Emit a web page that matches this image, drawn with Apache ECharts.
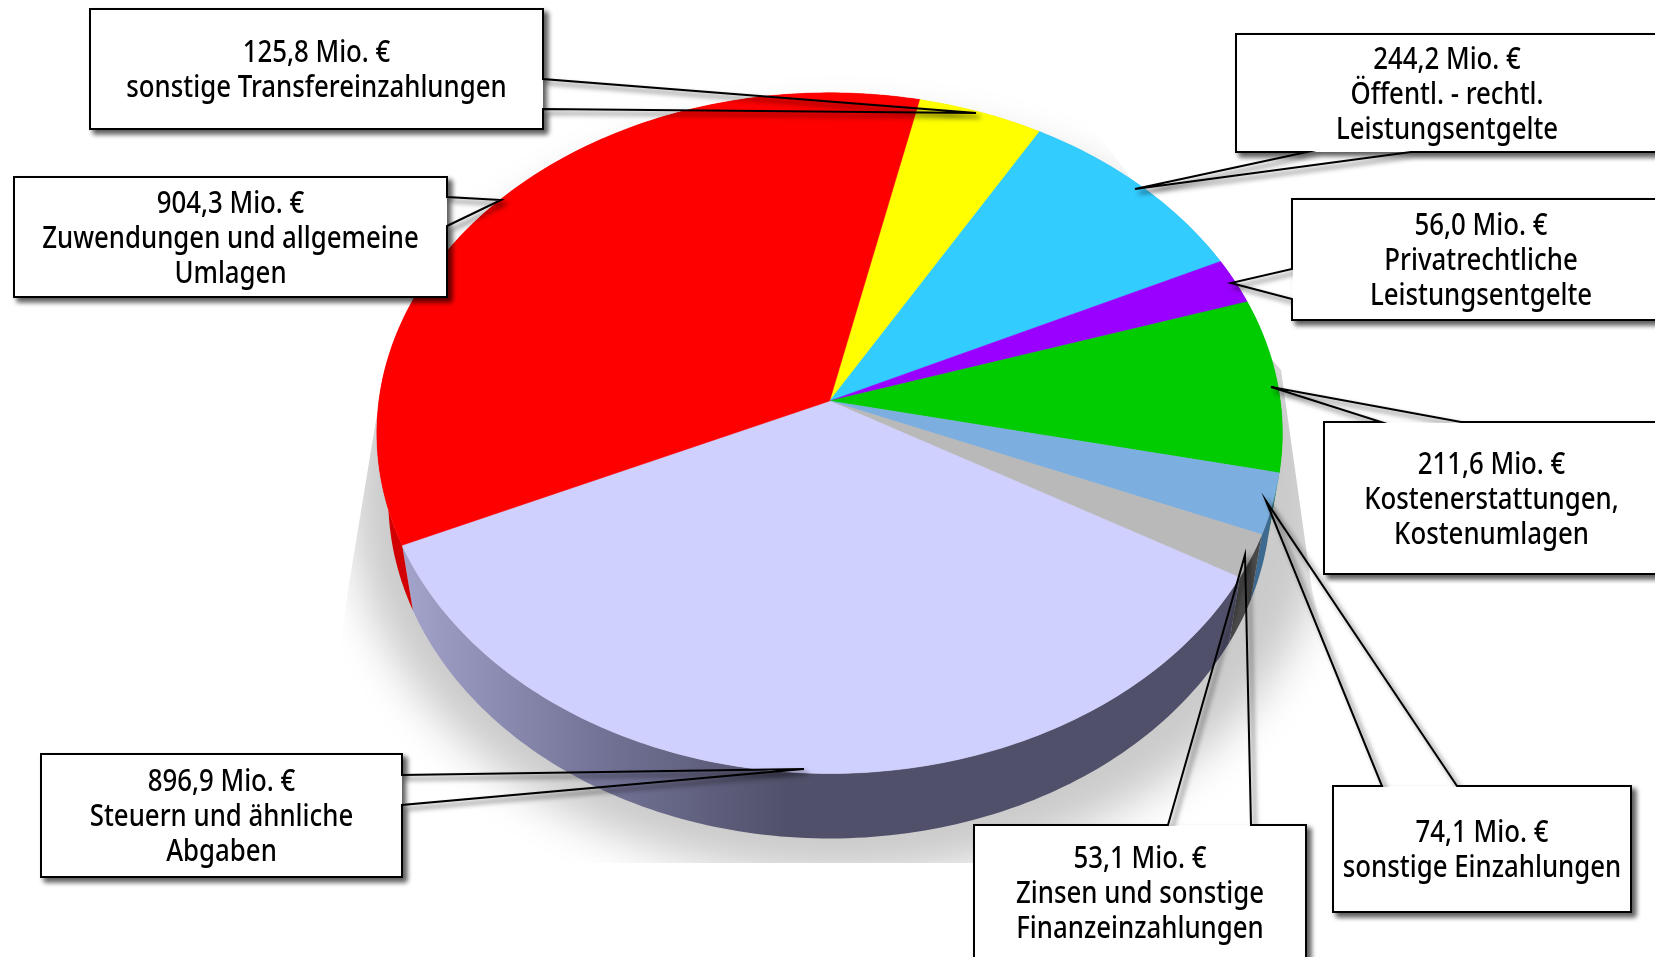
<!DOCTYPE html>
<html>
<head>
<meta charset="utf-8">
<title>Einzahlungen</title>
<style>
html, body { margin: 0; padding: 0; background: #fff; }
#main { width: 1655px; height: 957px; }
</style>
<script src="https://cdn.jsdelivr.net/npm/echarts@6/dist/echarts.min.js"></script>
</head>
<body>
<div id="main"></div>
<script>
// Mio. Euro, clockwise from the yellow slice
var values = [125.8, 244.2, 56.0, 211.6, 74.1, 53.1, 896.9, 904.3];
var names = [
    'sonstige Transfereinzahlungen',
    'Öffentl. - rechtl.\nLeistungsentgelte',
    'Privatrechtliche\nLeistungsentgelte',
    'Kostenerstattungen,\nKostenumlagen',
    'sonstige Einzahlungen',
    'Zinsen und sonstige\nFinanzeinzahlungen',
    'Steuern und ähnliche\nAbgaben',
    'Zuwendungen und allgemeine\nUmlagen'
];
var topColors = ['#ffff00', '#33ccff', '#9900ff', '#00cc00', '#7cafe0', '#b9b9b9', '#d0d0ff', '#ff0000'];
var wallColors = ['#cccc00', '#29a3cc', '#7a00cc', '#00a300', '#3f6a90', '#4a4a4a', null, '#d20000'];

// callout geometry: box [left, top, right, bottom], wedge [base point, tip, base point]
var boxes = [
    [90, 9, 543, 129],
    [1236, 34, 1658, 152],
    [1292, 199, 1670, 320],
    [1324, 422, 1659, 574],
    [1333, 786, 1631, 912],
    [974, 825, 1306, 960],
    [41, 754, 402, 877],
    [14, 177, 447, 297]
];
var wedges = [
    [[543, 79], [976, 113], [543, 109]],
    [[1411, 152], [1135, 189], [1307, 152]],
    [[1292, 299], [1231, 283], [1292, 269]],
    [[1461, 422], [1271, 387], [1381, 422]],
    [[1457, 786], [1266, 501], [1382, 786]],
    [[1251, 825], [1245, 555], [1168, 825]],
    [[402, 805], [804, 769], [402, 775]],
    [[447, 226], [501, 200], [447, 197]]
];

// perspective view of the disc
var CX = 829.6, CY = 401, RX = 450.7, RY = 337.3, PERSP = 0.0945;
var DEPTH = 65, BOTTOM_SCALE = 0.975;
var START_DEG = 12.6;

function project(deg) {
    var a = deg * Math.PI / 180;
    var u = Math.sin(a), v = -Math.cos(a);
    var w = 1 - PERSP * v;
    return [CX + RX * u / w, CY + RY * v / w];
}
function lower(p) {
    return [CX + (p[0] - CX) * BOTTOM_SCALE, p[1] + DEPTH];
}

var total = values.reduce(function (a, b) { return a + b; }, 0);
var startAngles = [];
values.reduce(function (acc, v, i) {
    startAngles[i] = acc;
    return acc + v / total * 360;
}, START_DEG);

function rimPoints(i) {
    var from = startAngles[i];
    var span = values[i] / total * 360;
    var n = Math.max(2, Math.ceil(span));
    var pts = [];
    for (var k = 0; k <= n; k++) {
        pts.push(project(from + span * k / n));
    }
    return pts;
}

function ellipsePoints(cx, cy, rx, ry) {
    var pts = [];
    for (var d = 0; d < 360; d += 2) {
        pts.push([cx + rx * Math.cos(d * Math.PI / 180), cy + ry * Math.sin(d * Math.PI / 180)]);
    }
    return pts;
}

function renderShadow() {
    return {
        type: 'group',
        children: [
            // drawn off the page so that only its blurred shadow lands on the chart
            {
                type: 'polygon',
                x: -3000,
                shape: { points: ellipsePoints(840, 498, 490, 378) },
                style: { fill: '#000', shadowBlur: 45, shadowOffsetX: 3000, shadowColor: '#cbcbcb' }
            },
            // light cone: everything outside of it stays white
            {
                type: 'polygon',
                shape: { points: [[0, 0], [500, 0], [376, 420], [348, 590], [300, 957], [0, 957]] },
                style: { fill: '#fff' }
            },
            {
                type: 'polygon',
                shape: { points: [[1655, 0], [1000, 0], [1220, 300], [1281, 370], [1312, 590], [1400, 957], [1655, 957]] },
                style: { fill: '#fff' }
            },
            {
                type: 'rect',
                shape: { x: 0, y: 863, width: 1655, height: 94 },
                style: { fill: '#fff' }
            }
        ]
    };
}

function renderWall(params) {
    var i = params.dataIndex;
    var top = rimPoints(i);
    var pts = top.concat(top.map(lower).reverse());
    var fill = wallColors[i] || new echarts.graphic.LinearGradient(400, 0, 790, 0, [
        { offset: 0, color: '#a4a4cc' },
        { offset: 0.5, color: '#747498' },
        { offset: 1, color: '#50506a' }
    ], true);
    return { type: 'polygon', shape: { points: pts }, style: { fill: fill } };
}

function renderTop(params) {
    var i = params.dataIndex;
    return {
        type: 'polygon',
        shape: { points: [[CX, CY]].concat(rimPoints(i)) },
        style: { fill: topColors[i], stroke: topColors[i], lineWidth: 0.5 }
    };
}

function labelText(i) {
    return values[i].toFixed(1).replace('.', ',') + ' Mio. €\n' + names[i];
}

function calloutOutline(b, w) {
    var corners = [[b[0], b[1]], [b[2], b[1]], [b[2], b[3]], [b[0], b[3]]];
    var pts = [];
    function onEdge(p, n) {
        var a = corners[n], c = corners[(n + 1) % 4];
        return (a[0] === c[0] && p[0] === a[0]) || (a[1] === c[1] && p[1] === a[1]);
    }
    for (var n = 0; n < 4; n++) {
        pts.push(corners[n]);
        if (onEdge(w[0], n)) {
            var first = w[0], last = w[2];
            var a = corners[n];
            var d0 = Math.abs(first[0] - a[0]) + Math.abs(first[1] - a[1]);
            var d1 = Math.abs(last[0] - a[0]) + Math.abs(last[1] - a[1]);
            if (d0 > d1) { var t = first; first = last; last = t; }
            pts.push(first, w[1], last);
        }
    }
    return pts;
}

function renderCallout(params) {
    var i = params.dataIndex;
    var b = boxes[i], w = wedges[i];
    var shadow = {
        shadowBlur: 5,
        shadowOffsetX: 4,
        shadowOffsetY: 4,
        shadowColor: 'rgba(0,0,0,0.65)'
    };
    return {
        type: 'group',
        children: [
            {
                type: 'rect',
                shape: { x: b[0], y: b[1], width: b[2] - b[0], height: b[3] - b[1] },
                style: Object.assign({ fill: '#fff' }, shadow)
            },
            {
                type: 'polygon',
                shape: { points: calloutOutline(b, w) },
                style: Object.assign({ fill: 'none', stroke: '#000', lineWidth: 2 }, shadow)
            },
            {
                type: 'rect',
                shape: { x: b[0] + 1, y: b[1] + 1, width: b[2] - b[0] - 2, height: b[3] - b[1] - 2 },
                style: { fill: '#fff' }
            },
            {
                type: 'text',
                x: (b[0] + b[2]) / 2,
                y: (b[1] + b[3]) / 2 + 2,
                scaleX: 0.86,
                style: {
                    text: labelText(i),
                    align: 'center',
                    verticalAlign: 'middle',
                    fontFamily: '"Noto Sans"',
                    fontSize: 30,
                    fontWeight: 500,
                    lineHeight: 35,
                    fill: '#000'
                }
            }
        ]
    };
}

var seriesData = values.map(function (v, i) { return { name: names[i], value: v }; });

var myChart = echarts.init(document.getElementById('main'), null, { renderer: 'canvas' });
var option = {
    animation: false,
    backgroundColor: '#fff',
    series: [
        { type: 'custom', coordinateSystem: 'none', silent: true, z: 1, data: [0], renderItem: renderShadow },
        { type: 'custom', coordinateSystem: 'none', silent: true, z: 2, data: seriesData, renderItem: renderWall },
        { type: 'custom', coordinateSystem: 'none', silent: true, z: 3, data: seriesData, renderItem: renderTop },
        { type: 'custom', coordinateSystem: 'none', silent: true, z: 4, data: seriesData, renderItem: renderCallout }
    ]
};
myChart.setOption(option);
</script>
</body>
</html>
